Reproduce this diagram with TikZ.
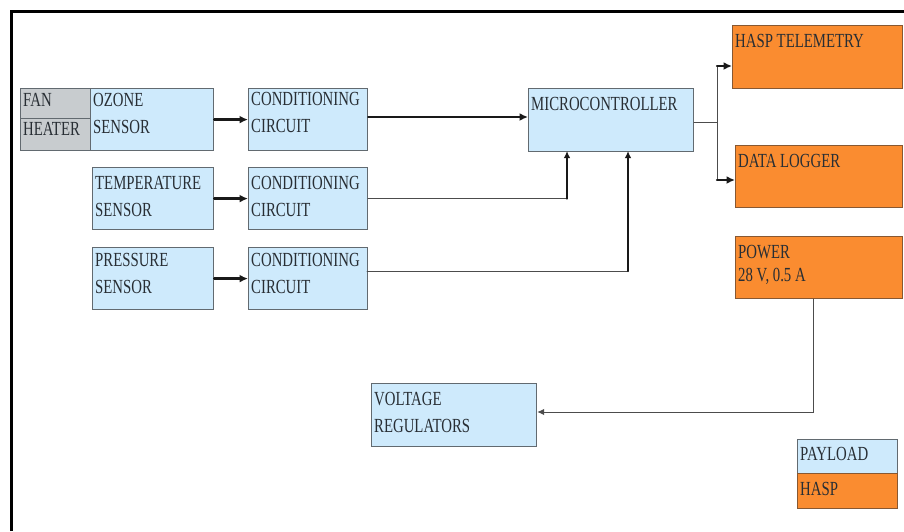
\documentclass[tikz,border=0pt]{standalone}
\usepackage{fontspec}
\setmainfont{Liberation Serif}[FakeStretch=0.74]
\usepackage{tikz}
\usetikzlibrary{arrows.meta}
\definecolor{skyblue}{RGB}{206,234,252}
\definecolor{boxorange}{RGB}{250,140,48}
\definecolor{fangray}{RGB}{200,204,207}
\definecolor{edgegray}{RGB}{98,106,112}
\definecolor{edgebrown}{RGB}{135,88,50}
\definecolor{inkgray}{RGB}{40,46,52}
\tikzset{
  lbl/.style={anchor=north west, inner xsep=3pt, inner ysep=9.5pt, align=left,
    text=inkgray, font=\fontsize{20}{27}\selectfont},
  bluebox/.style={draw=edgegray, fill=skyblue, line width=1.2pt, anchor=north west, inner sep=0pt},
  orangebox/.style={draw=edgebrown, fill=boxorange, line width=1.2pt, anchor=north west, inner sep=0pt},
  graybox/.style={draw=edgegray, fill=fangray, line width=1.2pt, anchor=north west, inner sep=0pt},
  thk/.style={line width=2.4pt, draw=black!90, -{Latex[length=8.5pt,width=8pt]}},
  thn/.style={line width=1pt, draw=black!70},
}
\begin{document}
\begin{tikzpicture}[x=1pt,y=-1pt,cap=round]
        \useasboundingbox (0,0) rectangle (904,531);
        % draw the frame
        \draw[line width=3pt,line cap=butt] (11.5,531) -- (11.5,11) -- (904,11);
        % draw the sensor side
        \node[graybox, minimum width=70pt, minimum height=30pt, label={[lbl, inner ysep=5pt]north west:FAN}] (fan) at (20,88) {};
        \node[graybox, minimum width=70pt, minimum height=32pt, label={[lbl, inner ysep=4.5pt]north west:HEATER}] (heater) at (20,118) {};
        \node[bluebox, minimum width=123pt, minimum height=62pt, label={[lbl, inner ysep=5pt]north west:{OZONE\\SENSOR}}] (ozone) at (90,88) {};
        \node[bluebox, minimum width=121pt, minimum height=62pt, label={[lbl]north west:{TEMPERATURE\\SENSOR}}] (temp) at (92,167) {};
        \node[bluebox, minimum width=121pt, minimum height=62pt, label={[lbl, inner ysep=6pt]north west:{PRESSURE\\SENSOR}}] (pres) at (92,247) {};
        \node[bluebox, minimum width=119pt, minimum height=62pt, label={[lbl, inner ysep=4.5pt]north west:{CONDITIONING\\CIRCUIT}}] (cond1) at (248,88) {};
        \node[bluebox, minimum width=119pt, minimum height=62pt, label={[lbl]north west:{CONDITIONING\\CIRCUIT}}] (cond2) at (248,167) {};
        \node[bluebox, minimum width=119pt, minimum height=62pt, label={[lbl, inner ysep=6pt]north west:{CONDITIONING\\CIRCUIT}}] (cond3) at (248,247) {};
        % microcontroller and outputs
        \node[bluebox, minimum width=165pt, minimum height=63pt, label={[lbl]north west:MICROCONTROLLER}] (mcu) at (528,88) {};
        \node[orangebox, minimum width=170pt, minimum height=63pt, label={[lbl]north west:HASP TELEMETRY}] (tele) at (732,25) {};
        \node[orangebox, minimum width=167pt, minimum height=62pt, label={[lbl]north west:DATA LOGGER}] (logger) at (735,145) {};
        \node[orangebox, minimum width=167pt, minimum height=62pt, label={[lbl, font=\fontsize{20}{23}\selectfont]north west:{POWER\\28 V, 0.5 A}}] (power) at (735,236) {};
        \node[bluebox, minimum width=165pt, minimum height=63pt, label={[lbl]north west:{VOLTAGE\\REGULATORS}}] (vreg) at (371,383) {};
        % legend
        \node[bluebox, minimum width=100pt, minimum height=34pt, label={[lbl, inner ysep=8.5pt]north west:PAYLOAD}] (payload) at (797,439) {};
        \node[orangebox, minimum width=100pt, minimum height=35pt, label={[lbl]north west:HASP}] (hasp) at (797,473) {};
        % turning points
        \coordinate (mcuin1) at (567,151);
        \coordinate (mcuin2) at (628,151);
        \coordinate (c3out) at (367,271);
        \coordinate (split) at (717,122);
        \coordinate (teleturn) at (717,66);
        \coordinate (logturn) at (717,180);
        \coordinate (pwrturn) at (813,412);
        % draw the connectors
        \draw[thk] (ozone.east) -- (cond1.west);
        \draw[thk] (temp.east) -- (cond2.west);
        \draw[thk] (pres.east) -- (cond3.west);
        \draw[thk] (cond1.east |- 0,117) -- (mcu.west |- 0,117);
        \draw[thn] (cond2.east) -- (cond2.east -| mcuin1);
        \draw[thk, -{Latex[length=7pt,width=6.5pt]}] (cond2.east -| mcuin1) -- (mcuin1);
        \draw[thn] (c3out) -- (c3out -| mcuin2);
        \draw[thk, -{Latex[length=7pt,width=6.5pt]}] (c3out -| mcuin2) -- (mcuin2);
        \draw[thn] (mcu.east |- split) -- (split);
        \draw[thn] (teleturn) -- (logturn);
        \draw[thk] (teleturn) -- (teleturn -| tele.west);
        \draw[thk] (logturn) -- (logturn -| logger.west);
        \draw[thn, -{Latex[length=7pt,width=6.5pt]}] (power.south -| pwrturn) -- (pwrturn) -- (pwrturn -| vreg.east);
\end{tikzpicture}
\end{document}
